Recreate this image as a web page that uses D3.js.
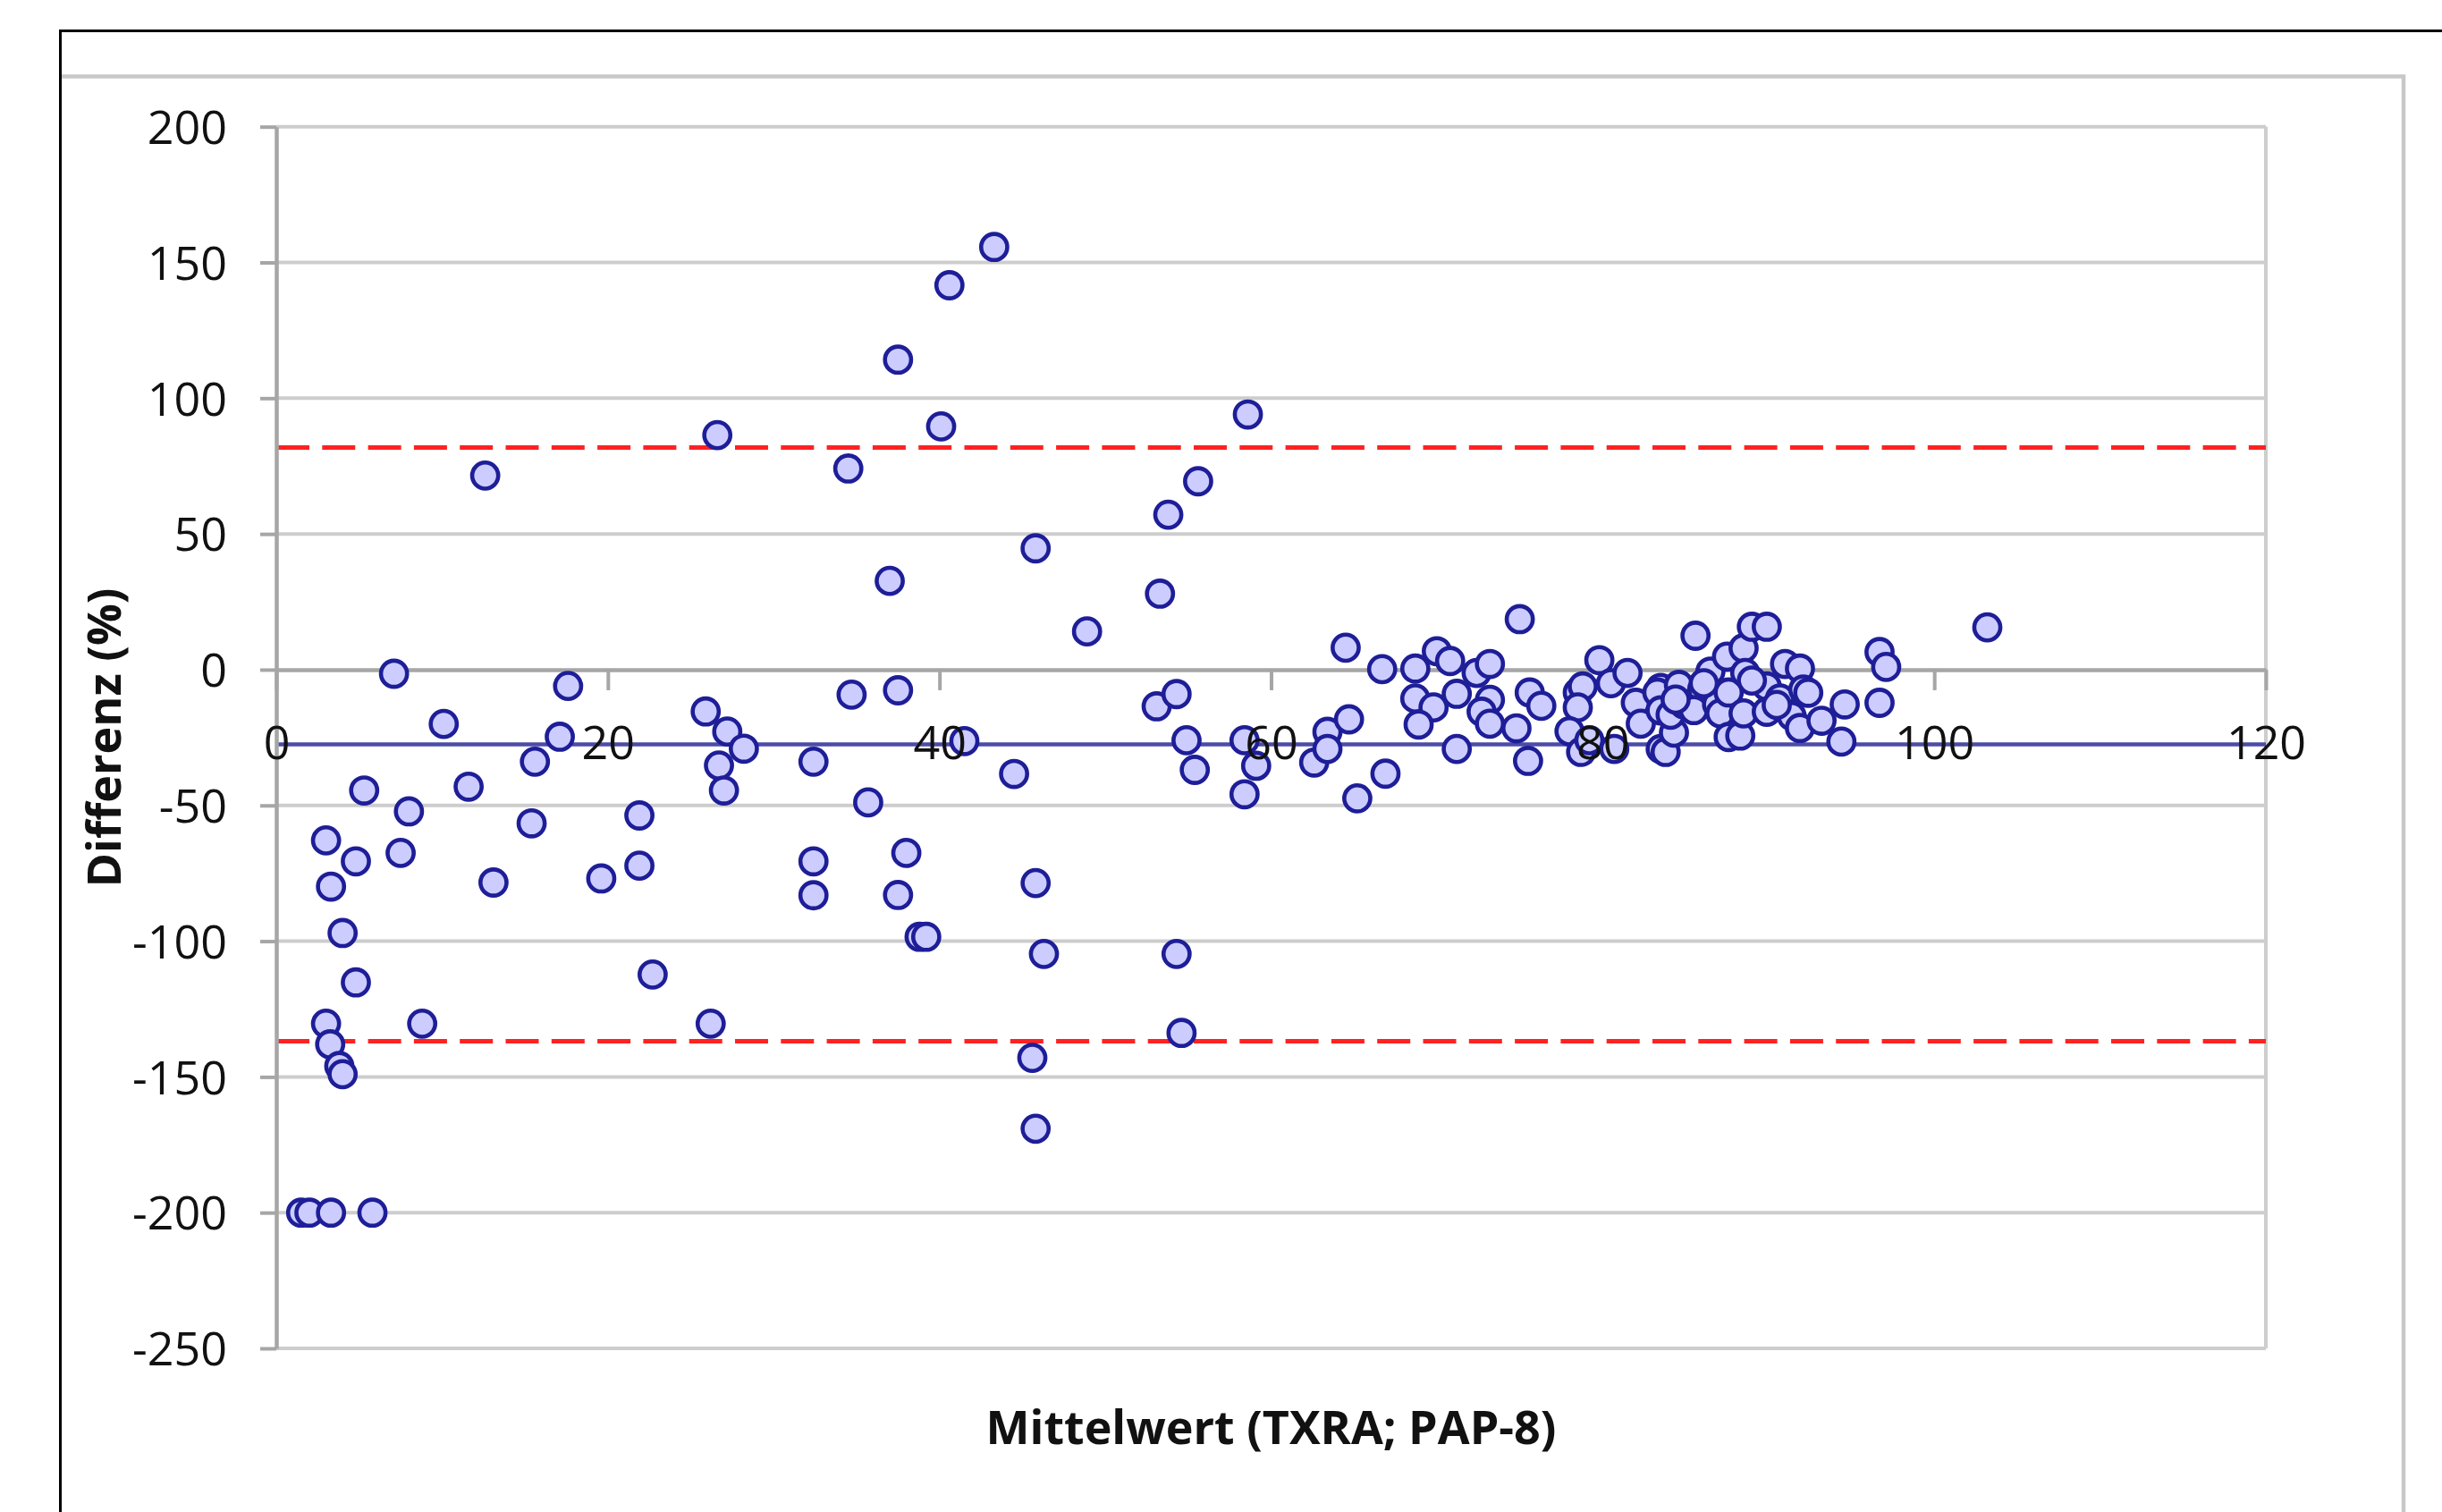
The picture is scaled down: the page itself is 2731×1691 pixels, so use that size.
<!DOCTYPE html>
<html><head><meta charset="utf-8">
<script src="https://cdn.jsdelivr.net/npm/d3@7"></script>
<style>body{margin:0;background:#fff}svg{display:block}</style>
</head><body>
<script>
// ---- data ----
const mittelwert = [
  1.5,2.0,3.3,5.8,3.0,3.25,3.8,4.0,4.8,4.0,3.3,3.0,4.8,7.5,5.3,8.0,7.1,10.1,8.8,12.6,
  11.6,13.1,15.4,15.6,17.1,17.6,19.6,21.9,21.9,22.7,26.2,26.6,25.9,27.2,28.2,26.7,27.0,32.4,32.4,32.4,
  34.5,34.7,35.7,37.0,37.5,37.5,38.0,37.5,38.8,39.2,40.1,40.6,41.5,43.3,44.5,45.8,45.8,46.3,45.6,45.8,
  48.9,53.3,53.8,55.6,53.1,54.3,54.9,55.4,54.3,54.6,58.6,58.4,59.1,58.4,
  62.6,63.4,63.4,64.5,64.7,65.2,66.7,66.9,68.7,70.0,70.8,68.7,69.8,68.9,71.2,71.2,72.4,73.2,73.2,72.7,
  73.2,74.8,75.0,75.6,76.3,75.5,78.5,78.8,78.5,78.0,78.7,79.2,79.8,80.5,81.5,80.7,82.0,82.3,83.5,83.5,
  83.3,83.5,83.8,84.3,84.6,84.1,84.9,85.6,86.0,85.5,86.5,86.9,87.1,87.5,87.6,87.6,88.3,88.5,88.6,88.5,
  89.0,89.9,89.9,89.9,90.7,91.0,91.9,92.1,91.4,91.9,93.2,94.6,94.4,96.7,97.1,96.7,103.2,
  90.5,92.4,89.0,84.4,86.1
];
const differenz = [
  -200,-200,-200,-200,-130.4,-138,-146,-149,-115.2,-97,-79.9,-62.9,-70.6,-67.5,-44.5,-52.2,-1.5,-20,-130.4,71.5,
  -43.1,-78.4,-56.6,-33.9,-24.7,-6.0,-76.9,-53.7,-72.2,-112.3,-130.4,86.4,-15.4,-22.8,-29.1,-35.3,-44.5,-33.9,-70.6,-83.1,
  74.1,-9.2,-48.9,32.7,114.2,-7.6,-67.5,-83.0,-98.4,-98.4,89.6,141.6,-26.3,155.7,-38.4,44.7,-78.6,-104.7,-143.0,-169.1,
  14.1,28.0,57.1,69.4,-13.5,-9.0,-26.0,-36.9,-104.7,-133.8,94.0,-26.0,-35.4,-45.9,
  -34.2,-22.9,-29.2,8.1,-18.3,-47.4,0.2,-38.3,0.4,6.8,3.2,-10.6,-13.9,-20.2,-8.9,-29.2,-1.2,2.1,-11.1,-15.5,
  -19.9,-21.6,18.6,-8.4,-13.3,-33.6,-8.4,-6.2,-13.9,-22.7,-30.3,-26.0,3.5,-5.0,-1.2,-29.2,-12.2,-19.9,-6.7,-29.2,
  -8.4,-15.0,-30.3,-23.2,-5.6,-16.6,-12.8,12.5,-7.3,-14.9,-0.7,-12.8,-16.1,4.8,-8.4,-24.8,-24.3,7.9,-1.2,-16.1,
  15.8,15.8,-6.2,-15.5,-10.6,2.1,0.4,-7.3,-17.1,-21.5,-18.8,-12.8,-26.5,6.5,1.0,-12.2,15.6,
  -13.0,-8.5,-4.0,-11.0,-5.0
];
const meanDiff = -27.5;
const upperLoA = 81.8;
const lowerLoA = -136.9;
const xTicks = [0,20,40,60,80,100,120];
const yTicks = [200,150,100,50,0,-50,-100,-150,-200,-250];
const xTitle = "Mittelwert (TXRA; PAP-8)";
const yTitle = "Differenz (%)";

// ---- drawing ----
const W = 2731, H = 1691;
const FONT = "'Open Sans', 'Liberation Sans', sans-serif";
const svg = d3.select("body").append("svg").attr("width", W).attr("height", H);
svg.append("rect").attr("width", W).attr("height", H).attr("fill", "#fff");

const x = d3.scaleLinear().domain([0, 120]).range([309, 2534]);
const y = d3.scaleLinear().domain([-250, 200]).range([1508, 141.7]);
const fmt = d => String(d);

// outer frames
svg.append("path").attr("d", "M66,85.5H2688V1691").attr("fill", "none")
  .attr("stroke", "#c8c8c8").attr("stroke-width", 4.5);
svg.append("path").attr("d", "M67.5,1691V34.5H2731").attr("fill", "none")
  .attr("stroke", "#000").attr("stroke-width", 3);

// gridlines
svg.append("g").selectAll("line").data(yTicks.filter(v => v !== 0)).join("line")
  .attr("x1", x(0)).attr("x2", x(120))
  .attr("y1", d => y(d)).attr("y2", d => y(d))
  .attr("stroke", "#cdcdcd").attr("stroke-width", 4);
// right border of plot area
svg.append("line").attr("x1", x(120)).attr("x2", x(120)).attr("y1", y(200)).attr("y2", y(-250))
  .attr("stroke", "#cdcdcd").attr("stroke-width", 4);

// limits of agreement and mean
const refLines = svg.append("g");
[upperLoA, lowerLoA].forEach(v => {
  refLines.append("line").attr("x1", x(0)).attr("x2", x(120))
    .attr("y1", y(v)).attr("y2", y(v))
    .attr("stroke", "#ff2222").attr("stroke-width", 5)
    .attr("stroke-dasharray", "37,14.3");
});
refLines.append("line").attr("x1", x(0)).attr("x2", x(120))
  .attr("y1", y(meanDiff)).attr("y2", y(meanDiff))
  .attr("stroke", "#4c4ca8").attr("stroke-width", 4.5);

// axes (lines)
const yAxis = svg.append("g").attr("transform", `translate(${x(0)},0)`)
  .call(d3.axisLeft(y).tickValues(yTicks).tickSize(18).tickSizeOuter(0).tickPadding(37));
const xAxis = svg.append("g").attr("transform", `translate(0,${y(0)})`)
  .call(d3.axisBottom(x).tickValues(xTicks).tickSize(23).tickSizeOuter(0).tickPadding(40.5));
[yAxis, xAxis].forEach(g => {
  g.select(".domain").attr("stroke", "#a6a6a6").attr("stroke-width", 4.5);
  g.selectAll(".tick line").attr("stroke", "#a6a6a6").attr("stroke-width", 4);
  g.selectAll(".tick text").remove();
});

// points
svg.append("g").selectAll("circle").data(d3.range(mittelwert.length)).join("circle")
  .attr("cx", i => x(mittelwert[i])).attr("cy", i => y(differenz[i]))
  .attr("r", 14.6).attr("fill", "#ccccff").attr("stroke", "#1e1e98").attr("stroke-width", 4.6);

// tick labels on top
const yLab = svg.append("g").attr("transform", `translate(${x(0)},0)`)
  .call(d3.axisLeft(y).tickValues(yTicks).tickFormat(fmt).tickSize(18).tickPadding(37));
const xLab = svg.append("g").attr("transform", `translate(0,${y(0)})`)
  .call(d3.axisBottom(x).tickValues(xTicks).tickFormat(fmt).tickSize(23).tickPadding(40.5));
[yLab, xLab].forEach(g => {
  g.select(".domain").remove();
  g.selectAll(".tick line").remove();
  g.selectAll(".tick text").attr("font-family", FONT).attr("font-size", 52).attr("fill", "#111");
});
yLab.selectAll(".tick text").attr("dy", "0.36em");

// titles
svg.append("text").attr("x", (x(0) + x(120)) / 2).attr("y", 1615)
  .attr("text-anchor", "middle").attr("font-family", FONT).attr("font-weight", "bold")
  .attr("font-size", 52).attr("fill", "#111").text(xTitle);
svg.append("text").attr("transform", "translate(135,825) rotate(-90)")
  .attr("text-anchor", "middle").attr("font-family", FONT).attr("font-weight", "bold")
  .attr("font-size", 52).attr("fill", "#111").text(yTitle);
</script>
</body></html>
